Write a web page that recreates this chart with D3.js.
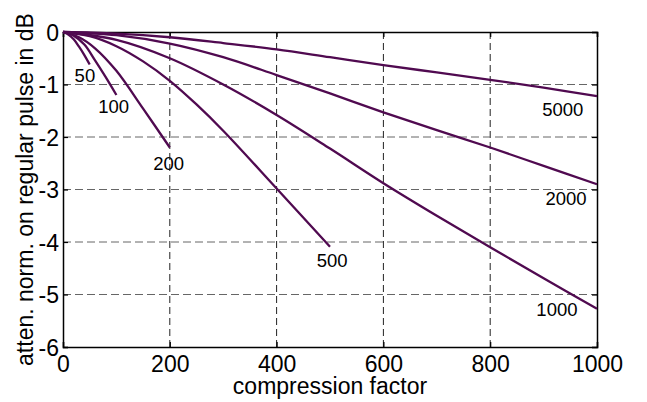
<!DOCTYPE html>
<html>
<head>
<meta charset="utf-8">
<script src="https://cdn.jsdelivr.net/npm/d3@7"></script>
<style>
  body { margin: 0; background: #fff; }
  text { font-family: Arial, "Liberation Sans", sans-serif; fill: #000; }
</style>
</head>
<body>
<div class="canvas"></div>
<script>
// data
const xTicks = [0, 200, 400, 600, 800, 1000]
const yTicks = [0, -1, -2, -3, -4, -5, -6]

const x50 = [0, 10, 20, 30, 40, 50]
const y50 = [0, -0.05, -0.14, -0.28, -0.44, -0.62]
const x100 = [0, 20, 40, 60, 80, 100]
const y100 = [0, -0.07, -0.24, -0.54, -0.86, -1.2]
const x200 = [0, 30, 60, 100, 150, 200]
const y200 = [0, -0.1, -0.31, -0.74, -1.46, -2.2]
const x500 = [0, 50, 100, 150, 200, 250, 300, 400, 500]
const y500 = [0, -0.08, -0.27, -0.56, -0.93, -1.38, -1.88, -2.98, -4.09]
const xLong = [0, 100, 200, 300, 400, 500, 600, 700, 800, 900, 1000]
const y1000 = [0, -0.15, -0.5, -1.0, -1.58, -2.22, -2.88, -3.5, -4.1, -4.69, -5.27]
const y2000 = [0, -0.06, -0.22, -0.48, -0.82, -1.17, -1.53, -1.87, -2.2, -2.55, -2.9]
const y5000 = [0, -0.03, -0.1, -0.21, -0.33, -0.48, -0.63, -0.77, -0.91, -1.06, -1.22]

const names = ['50', '100', '200', '500', '1000', '2000', '5000']
const labelX = [41, 95, 198, 504, 925, 942, 936]
const labelY = [-0.83, -1.41, -2.5, -4.34, -5.28, -3.16, -1.47]

const series = [
  [x50, y50], [x100, y100], [x200, y200], [x500, y500],
  [xLong, y1000], [xLong, y2000], [xLong, y5000]
].map(([xs, ys]) => xs.map((v, i) => ({x: v, y: ys[i]})))

const W = 647, H = 402
const m = {left: 63, right: 50, top: 32, bottom: 55}

const svg = d3.select('.canvas')
  .append('svg')
  .attr('width', W)
  .attr('height', H)

const xScale = d3.scaleLinear().domain([0, 1000]).range([m.left, W - m.right])
const yScale = d3.scaleLinear().domain([-6, 0]).range([H - m.bottom, m.top])

// grid
svg.append('g')
  .selectAll('line')
  .data(xTicks.slice(1, -1))
  .enter().append('line')
  .attr('x1', d => xScale(d)).attr('x2', d => xScale(d))
  .attr('y1', m.top).attr('y2', H - m.bottom)
  .attr('stroke', '#222')
  .attr('stroke-dasharray', '7,4')

svg.append('g')
  .selectAll('line')
  .data(yTicks.slice(1, -1))
  .enter().append('line')
  .attr('y1', d => yScale(d)).attr('y2', d => yScale(d))
  .attr('x1', m.left).attr('x2', W - m.right)
  .attr('stroke', '#666')
  .attr('stroke-dasharray', '8,4')

// axes, ticks pointing inward
const tickFmt = d3.format('d')
const bottomAxis = d3.axisBottom(xScale).tickValues(xTicks).tickSize(-5).tickPadding(9).tickFormat(tickFmt)
const topAxis = d3.axisTop(xScale).tickValues(xTicks).tickSize(-5).tickFormat('')
const leftAxis = d3.axisLeft(yScale).tickValues(yTicks).tickSize(-5).tickPadding(4).tickFormat(d => d === 0 ? '0' : '-' + Math.abs(d))
const rightAxis = d3.axisRight(yScale).tickValues(yTicks).tickSize(-5).tickFormat('')

const styleAxis = g => {
  g.select('.domain').attr('stroke', '#000').attr('stroke-width', 1.5)
  g.selectAll('.tick line').attr('stroke', '#000').attr('stroke-width', 1.2)
  g.selectAll('.tick text').attr('font-size', 23).attr('fill', '#000')
    .attr('font-family', 'Arial, "Liberation Sans", sans-serif')
}

svg.append('g').attr('transform', `translate(0,${H - m.bottom})`).call(bottomAxis).call(styleAxis)
  .selectAll('.tick text').attr('dy', '0.7em')
svg.append('g').attr('transform', `translate(0,${m.top})`).call(topAxis).call(styleAxis)
svg.append('g').attr('transform', `translate(${m.left},0)`).call(leftAxis).call(styleAxis)
  .selectAll('.tick text').attr('dy', '0.36em')
svg.append('g').attr('transform', `translate(${W - m.right},0)`).call(rightAxis).call(styleAxis)

// curves
const line = d3.line()
  .x(d => xScale(d.x))
  .y(d => yScale(d.y))
  .curve(d3.curveCatmullRom.alpha(0.5))

svg.append('g')
  .selectAll('path')
  .data(series)
  .enter().append('path')
  .attr('d', line)
  .attr('fill', 'none')
  .attr('stroke', '#500a50')
  .attr('stroke-width', 2.3)

// curve labels
svg.append('g')
  .selectAll('text')
  .data(names)
  .enter().append('text')
  .attr('x', (d, i) => xScale(labelX[i]))
  .attr('y', (d, i) => yScale(labelY[i]))
  .attr('dy', '0.36em')
  .attr('text-anchor', 'middle')
  .attr('font-size', 18.5)
  .text(d => d)

// axis titles
svg.append('text')
  .attr('x', (m.left + W - m.right) / 2)
  .attr('y', 394)
  .attr('text-anchor', 'middle')
  .attr('font-size', 23)
  .text('compression factor')

svg.append('text')
  .attr('transform', `translate(33,${(m.top + H - m.bottom) / 2}) rotate(-90)`)
  .attr('text-anchor', 'middle')
  .attr('font-size', 23)
  .text('atten. norm. on regular pulse in dB')
</script>
</body>
</html>
